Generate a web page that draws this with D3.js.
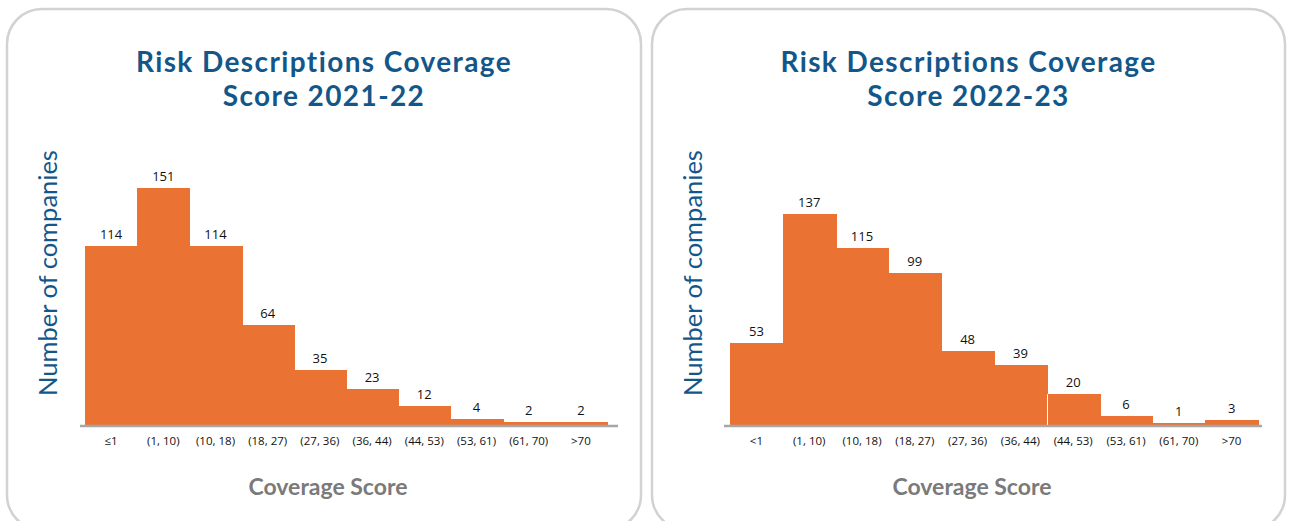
<!DOCTYPE html>
<html>
<head>
<meta charset="utf-8">
<script src="https://cdn.jsdelivr.net/npm/d3@7"></script>
<style>
  html, body { margin: 0; padding: 0; background: #fff; }
  svg { display: block; }
</style>
</head>
<body>
<svg id="chart" width="1290" height="521"></svg>
<script>
// Bins of the coverage score and company counts per year
const bins2122 = ["≤1", "(1, 10)", "(10, 18)", "(18, 27)", "(27, 36)", "(36, 44)", "(44, 53)", "(53, 61)", "(61, 70)", ">70"];
const counts2122 = [114, 151, 114, 64, 35, 23, 12, 4, 2, 2];

const bins2223 = ["<1", "(1, 10)", "(10, 18)", "(18, 27)", "(27, 36)", "(36, 44)", "(44, 53)", "(53, 61)", "(61, 70)", ">70"];
const counts2223 = [53, 137, 115, 99, 48, 39, 20, 6, 1, 3];

const titles = [
  ["Risk Descriptions Coverage", "Score 2021-22"],
  ["Risk Descriptions Coverage", "Score 2022-23"]
];
const yTitle = "Number of companies";
const xTitle = "Coverage Score";

const svg = d3.select("#chart");
const orange = "#EA7232";
const navy = "#13578A";

const panels = [
  { x0: 7, w: 634, bins: bins2122, counts: counts2122, title: titles[0], plotL: 85, plotR: 607, axisL: 80, axisR: 618, pxPerUnit: 1.567, gapAfter: -1 },
  { x0: 652, w: 633, bins: bins2223, counts: counts2223, title: titles[1], plotL: 730, plotR: 1258, axisL: 724, axisR: 1262, pxPerUnit: 1.54, gapAfter: 5 }
];

const baseY = 425;

panels.forEach(p => {
  const g = svg.append("g");
  const w = p.w;
  const y = d3.scaleLinear().domain([0, 160]).range([baseY, baseY - 160 * p.pxPerUnit]);

  // rounded card frame
  g.append("rect")
    .attr("x", p.x0).attr("y", 9)
    .attr("width", w).attr("height", 521)
    .attr("rx", 35).attr("ry", 35)
    .attr("fill", "#fff")
    .attr("stroke", "#d2d2d2").attr("stroke-width", 2.5);

  const cx = p.x0 + w / 2;
  [72, 106].forEach((ty, k) => {
    g.append("text")
      .attr("x", cx).attr("y", ty)
      .attr("text-anchor", "middle")
      .attr("font-family", "Lato, 'Open Sans', sans-serif")
      .attr("font-weight", 700).attr("font-size", 28)
      .attr("letter-spacing", 1.4)
      .attr("fill", navy)
      .text(p.title[k]);
  });

  const x = d3.scaleBand().domain(p.bins).range([p.plotL, p.plotR]).padding(0);

  // bars (touching, histogram style)
  g.selectAll("rect.bar").data(p.counts).join("rect")
    .attr("class", "bar")
    .attr("x", (d, i) => Math.round(x(p.bins[i])))
    .attr("y", d => y(d))
    .attr("width", (d, i) => Math.round(x(p.bins[i]) + x.bandwidth()) - Math.round(x(p.bins[i])) + 1)
    .attr("height", d => baseY - y(d))
    .attr("shape-rendering", "crispEdges")
    .attr("fill", orange);

  // thin separator between two bars on the later chart
  if (p.gapAfter >= 0) {
    const gx = Math.round(x(p.bins[p.gapAfter + 1])) + 0.5;
    g.append("line")
      .attr("x1", gx).attr("x2", gx)
      .attr("y1", y(p.counts[p.gapAfter + 1])).attr("y2", baseY)
      .attr("stroke", "#fff").attr("stroke-width", 1);
  }

  // value labels
  g.selectAll("text.val").data(p.counts).join("text")
    .attr("class", "val")
    .attr("x", (d, i) => x(p.bins[i]) + x.bandwidth() / 2)
    .attr("y", d => y(d) - 7)
    .attr("text-anchor", "middle")
    .attr("font-family", "'Open Sans', 'Liberation Sans', sans-serif")
    .attr("font-size", 13)
    .attr("font-weight", 500)
    .attr("fill", "#111")
    .text(d => d);

  // x axis line
  g.append("line")
    .attr("x1", p.axisL).attr("x2", p.axisR)
    .attr("y1", baseY + 1).attr("y2", baseY + 1)
    .attr("stroke", "#a6a6a6").attr("stroke-width", 2.5);

  // category labels
  g.selectAll("text.cat").data(p.bins).join("text")
    .attr("class", "cat")
    .attr("x", d => x(d) + x.bandwidth() / 2)
    .attr("y", 445)
    .attr("text-anchor", "middle")
    .attr("font-family", "'Open Sans', 'Liberation Sans', sans-serif")
    .attr("font-size", 11.5)
    .attr("fill", "#111")
    .text(d => d);

  // axis titles
  g.append("text")
    .attr("transform", `translate(${p.x0 + 50},273) rotate(-90)`)
    .attr("text-anchor", "middle")
    .attr("font-family", "Lato, 'Open Sans', sans-serif")
    .attr("font-size", 25.5)
    .attr("fill", navy)
    .text(yTitle);

  g.append("text")
    .attr("x", (p.axisL + p.axisR) / 2 - 21)
    .attr("y", 495)
    .attr("text-anchor", "middle")
    .attr("font-family", "Lato, 'Open Sans', sans-serif")
    .attr("font-weight", 700).attr("font-size", 23)
    .attr("fill", "#7a7a7a")
    .text(xTitle);
});
</script>
</body>
</html>
